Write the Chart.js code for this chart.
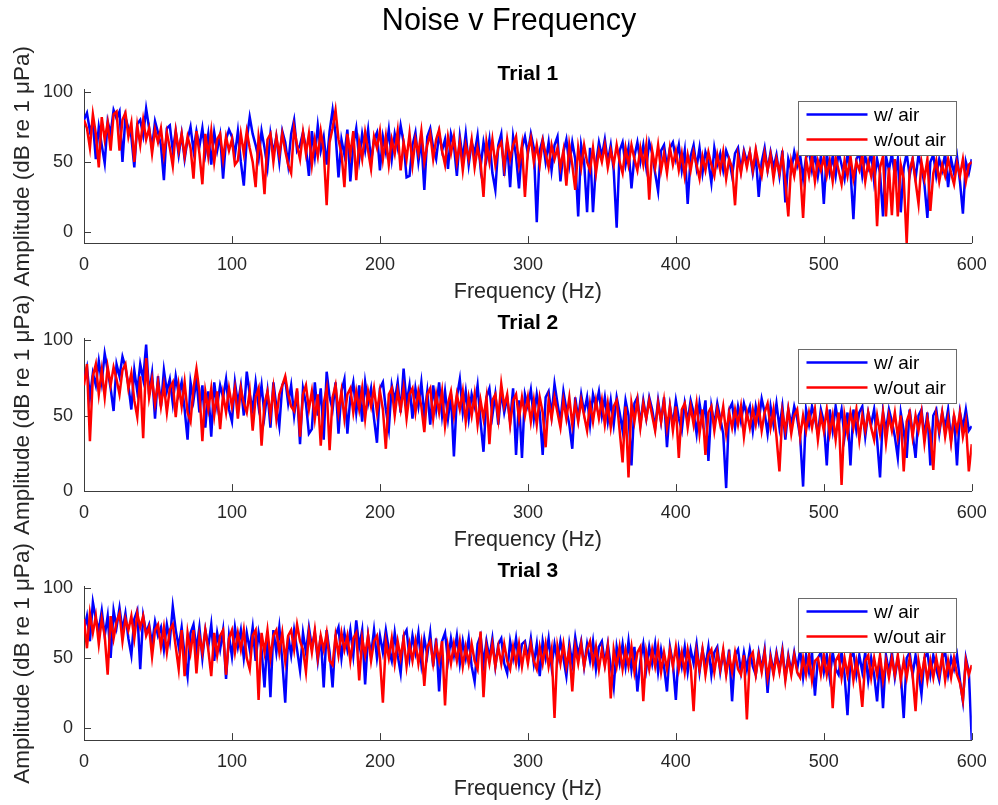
<!DOCTYPE html>
<html>
<head>
<meta charset="utf-8">
<script src="https://cdn.jsdelivr.net/npm/chart.js@4.4.0/dist/chart.umd.min.js"></script>
<style>
html,body{margin:0;padding:0;background:#fff;overflow:hidden;width:998px;height:805px;}
#mainTitle{position:absolute;left:0;top:3.5px;width:1018px;text-align:center;font-family:"Liberation Sans",Arial,Helvetica,sans-serif;font-size:30.5px;line-height:30.5px;color:#000;z-index:5;}
canvas{position:absolute;left:0;}
</style>
</head>
<body>
<div id="mainTitle">Noise v Frequency</div>
<canvas id="c1" width="998" height="305" style="top:0px"></canvas>
<canvas id="c2" width="998" height="263" style="top:290px"></canvas>
<canvas id="c3" width="998" height="263" style="top:539px"></canvas>
<script>
// ---------------- DATA ----------------
const SERIES_LABELS = ['w/ air', 'w/out air'];
const TRIAL_TITLES = ['Trial 1', 'Trial 2', 'Trial 3'];
const X_TITLE = 'Frequency (Hz)';
const Y_TITLE = 'Amplitude (dB re 1 \u03bcPa)';
const X_TICKS = [0, 100, 200, 300, 400, 500, 600];
const Y_TICKS = [0, 50, 100];

const FREQ = [
0,2,4,6,8,10,12,14,16,18,20,22,24,26,28,30,32,34,36,38,40,42,44,46,48,
50,52,54,56,58,60,62,64,66,68,70,72,74,76,78,80,82,84,86,88,90,92,94,96,98,
100,102,104,106,108,110,112,114,116,118,120,122,124,126,128,130,132,134,136,138,140,142,144,146,148,
150,152,154,156,158,160,162,164,166,168,170,172,174,176,178,180,182,184,186,188,190,192,194,196,198,
200,202,204,206,208,210,212,214,216,218,220,222,224,226,228,230,232,234,236,238,240,242,244,246,248,
250,252,254,256,258,260,262,264,266,268,270,272,274,276,278,280,282,284,286,288,290,292,294,296,298,
300,302,304,306,308,310,312,314,316,318,320,322,324,326,328,330,332,334,336,338,340,342,344,346,348,
350,352,354,356,358,360,362,364,366,368,370,372,374,376,378,380,382,384,386,388,390,392,394,396,398,
400,402,404,406,408,410,412,414,416,418,420,422,424,426,428,430,432,434,436,438,440,442,444,446,448,
450,452,454,456,458,460,462,464,466,468,470,472,474,476,478,480,482,484,486,488,490,492,494,496,498,
500,502,504,506,508,510,512,514,516,518,520,522,524,526,528,530,532,534,536,538,540,542,544,546,548,
550,552,554,556,558,560,562,564,566,568,570,572,574,576,578,580,582,584,586,588,590,592,594,596,598,
600];

const T1_AIR = [
80,85,72,78,52,75,62,49,79,70,87,81,86,50,82,74,68,46,77,80,69,88,74,60,79,
71,62,37,74,76,58,72,55,70,52,66,75,58,72,61,74,56,70,48,71,58,69,38,66,73,
68,55,72,50,33,66,82,70,62,52,72,60,46,70,56,68,50,72,64,48,70,80,58,62,71,
60,40,72,54,76,58,68,48,72,87,70,39,66,55,73,36,62,74,52,70,58,73,50,66,71,
44,68,57,73,52,70,60,76,64,39,40,62,71,50,66,30,68,74,60,52,70,58,66,45,70,
62,40,68,52,70,48,64,56,69,46,64,52,66,42,30,62,70,40,64,32,68,54,31,60,68,
56,70,60,7,58,66,50,64,44,62,68,36,57,66,48,64,52,11,62,50,14,60,14,48,64,
54,66,50,62,44,3,58,64,48,60,31,54,64,50,62,46,64,56,42,29,58,62,46,60,64,
52,62,44,58,20,54,62,46,60,42,57,50,35,60,48,56,44,58,52,40,56,60,44,58,50,
57,42,55,25,50,60,44,57,46,55,40,58,21,52,44,57,47,55,38,53,58,44,56,40,54,
20,56,42,54,40,57,48,38,56,44,9,52,56,40,54,46,57,36,52,42,11,54,44,56,40,
52,14,46,56,40,52,38,55,46,34,10,50,55,40,52,44,56,32,52,42,54,36,13,50,42,
52];

const T1_NOAIR = [
80,74,60,84,70,46,82,66,78,58,84,86,58,80,85,68,78,50,76,62,80,66,74,56,73,
64,74,55,71,60,47,72,58,70,54,68,60,38,72,56,34,70,54,72,50,66,70,52,68,58,
66,48,51,70,56,72,60,50,32,68,54,27,66,70,50,68,55,70,58,48,42,74,62,52,71,
56,70,48,66,54,72,58,19,64,74,87,66,56,32,70,55,72,37,64,52,71,58,45,68,60,
72,52,68,48,66,56,72,44,64,52,70,48,66,56,72,50,62,70,52,66,73,58,48,68,56,
68,50,64,44,62,52,66,46,60,50,25,64,50,66,48,60,64,46,66,52,62,68,48,62,25,
58,67,50,62,48,65,56,46,62,52,60,46,58,33,62,48,30,60,46,62,50,44,60,42,58,
50,62,46,58,48,62,50,42,60,48,62,52,44,60,48,62,23,58,46,62,44,56,42,60,48,
58,44,56,40,55,44,57,48,38,54,44,57,48,40,55,44,57,38,52,46,19,54,42,56,46,
57,44,59,48,40,56,44,55,38,52,42,55,36,11,50,40,54,44,10,52,40,54,36,51,44,
53,40,51,36,53,44,34,51,40,54,38,50,44,55,36,50,40,53,4,46,54,11,46,12,52,
11,48,38,-8,44,52,36,20,50,38,52,15,42,51,36,48,40,52,42,34,49,40,52,36,48,
50];

const T2_AIR = [
74,82,62,78,70,86,72,91,80,68,53,84,76,89,82,70,54,80,66,84,74,97,64,78,48,
76,56,80,66,74,58,76,64,72,54,34,72,60,74,52,70,42,66,36,72,56,70,62,74,54,
46,72,58,70,50,79,64,54,72,56,70,50,66,42,72,56,43,70,74,58,70,50,66,31,68,
58,38,41,72,50,68,34,79,62,54,72,38,66,74,38,62,72,52,70,46,72,58,68,48,32,
68,72,54,41,70,60,72,52,81,58,70,48,68,56,72,50,66,44,70,54,72,50,66,48,64,
23,62,74,52,66,48,64,56,70,46,26,62,68,50,64,44,66,52,62,46,68,24,60,22,64,
56,67,48,64,52,24,62,66,50,71,58,46,66,54,44,28,62,48,64,52,62,44,64,56,66,
50,62,46,60,44,62,52,40,60,50,17,58,62,44,60,48,62,54,42,60,46,62,29,56,44,
60,48,40,58,46,60,52,38,58,46,60,20,56,44,58,48,38,2,54,58,42,56,46,58,50,
56,40,56,46,61,52,38,56,44,58,42,56,34,54,44,56,48,36,3,54,44,56,48,38,54,
46,17,54,40,56,44,54,36,52,17,54,40,52,56,36,52,44,54,34,9,52,40,54,46,36,
22,52,40,22,54,38,22,50,54,36,52,17,50,54,38,52,42,54,34,50,17,52,42,54,40,
43];

const T2_NOAIR = [
70,84,33,76,84,64,80,62,82,70,82,74,64,80,84,68,78,60,49,76,35,88,62,74,58,
72,56,70,52,68,72,49,70,56,72,52,46,68,81,66,33,66,54,68,50,66,41,64,52,68,
56,68,48,68,58,52,66,40,62,68,30,58,66,50,68,48,64,70,76,64,56,53,68,36,64,
70,54,66,48,64,30,58,68,27,62,70,52,66,48,64,68,52,66,54,68,48,66,56,68,52,
66,54,28,64,68,50,66,54,68,48,64,68,52,66,56,39,64,68,48,64,52,66,43,58,66,
50,64,54,66,46,62,50,64,44,60,48,62,31,60,64,48,71,56,64,44,60,64,48,62,50,
62,46,60,44,62,52,29,60,48,62,52,42,60,48,62,44,58,46,60,50,40,58,46,60,48,
60,44,58,42,56,60,40,19,56,9,58,46,60,42,58,48,60,50,40,58,46,60,42,56,40,
56,22,54,58,42,56,44,58,38,54,24,52,56,40,54,44,56,38,52,42,54,44,56,36,52,
42,54,44,56,40,52,58,42,54,36,13,52,40,54,38,50,54,36,50,40,52,42,54,34,50,
40,54,38,50,34,52,4,50,38,52,42,54,34,50,40,52,42,34,50,38,52,32,50,40,52,
36,50,13,46,52,36,50,40,52,32,48,38,14,50,40,52,36,48,32,50,40,52,36,46,13,
31];

const T3_AIR = [
70,80,62,90,78,70,84,66,80,50,84,72,86,70,82,64,52,78,84,42,80,68,74,60,76,
66,72,56,74,62,87,70,58,72,52,37,68,74,56,72,50,70,58,74,48,68,56,70,35,66,
51,72,58,70,50,68,56,72,48,68,56,29,66,22,70,54,72,48,18,66,52,70,56,41,68,
54,72,58,68,48,66,29,70,54,29,66,72,50,68,56,70,52,77,58,70,31,66,52,70,50,
66,54,70,56,48,68,52,39,66,70,50,66,54,68,46,64,52,68,44,64,26,62,68,48,64,
52,66,46,62,50,64,44,33,60,66,46,62,50,64,44,60,64,46,39,62,50,64,46,60,62,
50,64,46,60,37,62,50,64,44,60,48,62,50,37,60,46,65,52,62,44,60,48,62,42,58,
62,46,60,44,29,58,46,60,44,62,42,58,26,48,60,42,58,46,60,40,56,44,26,58,46,
20,56,44,58,40,56,46,60,40,56,44,58,38,54,58,40,54,40,56,19,52,56,40,54,42,
56,44,38,54,42,56,25,52,40,54,42,56,36,52,40,54,42,56,36,52,40,54,23,50,54,
40,52,36,54,42,38,54,38,9,50,54,38,52,40,54,34,50,38,19,50,14,52,40,54,36,
50,38,7,50,54,38,52,40,24,50,54,38,52,42,34,50,54,38,50,42,52,34,19,50,40,
-9];

const T3_NOAIR = [
78,57,82,68,80,60,78,66,38,80,64,76,82,62,78,70,80,64,82,72,80,66,72,51,70,
74,58,72,54,70,74,58,42,70,37,68,54,70,39,66,54,70,56,37,68,52,66,70,38,64,
70,54,68,56,70,50,42,66,70,20,68,54,70,50,66,70,54,68,48,66,70,56,74,62,56,
40,68,54,70,50,66,56,68,48,45,66,52,68,56,66,48,64,68,34,64,52,66,48,62,66,
50,18,62,50,64,46,62,50,64,44,60,48,62,46,60,30,58,62,46,60,48,62,16,58,46,
60,48,62,44,58,46,60,48,42,69,22,58,46,60,44,58,46,60,48,42,58,46,60,44,58,
46,60,48,42,58,46,60,44,56,7,58,46,60,44,56,26,58,46,60,44,56,62,46,58,42,
56,44,58,21,56,44,58,42,56,44,58,40,54,58,19,54,42,56,44,58,40,54,42,56,44,
58,42,54,40,56,44,12,54,42,56,38,52,56,40,54,42,56,38,52,40,54,42,38,52,6,
50,54,38,52,40,54,36,50,38,52,40,54,34,50,38,52,40,36,50,38,52,34,48,50,38,
52,38,50,14,48,52,36,50,38,52,34,48,36,15,48,52,36,50,38,52,34,48,36,50,38,
52,34,48,36,50,38,12,48,36,50,34,48,36,50,38,52,34,48,36,50,38,32,20,48,38,
45];

// ---------------- STYLE ----------------
const FONT = '"Liberation Sans", Arial, Helvetica, sans-serif';
const AXIS_COLOR = '#3c3c3c';
const TEXT_COLOR = '#262626';
const SERIES_COLORS = ['#0000ff', '#ff0000'];

// inward tick marks (MATLAB style)
const innerTicks = {
  id: 'innerTicks',
  beforeDatasetsDraw(chart) {
    const {ctx, chartArea, scales} = chart;
    const xs = scales.x, ys = scales.y;
    ctx.save();
    ctx.strokeStyle = AXIS_COLOR;
    ctx.lineWidth = 1;
    ctx.beginPath();
    xs.ticks.forEach(t => {
      const px = Math.round(xs.getPixelForValue(t.value)) + 0.5;
      ctx.moveTo(px, chartArea.bottom);
      ctx.lineTo(px, chartArea.bottom - 7);
    });
    ys.ticks.forEach(t => {
      const py = Math.round(ys.getPixelForValue(t.value)) + 0.5;
      ctx.moveTo(chartArea.left, py);
      ctx.lineTo(chartArea.left + 7, py);
    });
    ctx.stroke();
    ctx.restore();
  }
};

// boxed legend inside the plot, top right
const boxLegend = {
  id: 'boxLegend',
  afterDraw(chart) {
    const {ctx, chartArea} = chart;
    const w = 158, h = 54;
    const bx = Math.round(chartArea.right - 16 - w);
    const by = Math.round(chartArea.top + 11);
    ctx.save();
    ctx.fillStyle = '#ffffff';
    ctx.fillRect(bx, by, w, h);
    ctx.strokeStyle = '#6a6a6a';
    ctx.lineWidth = 1;
    ctx.strokeRect(bx + 0.5, by + 0.5, w, h);
    chart.data.datasets.forEach((ds, i) => {
      const ly = by + 13.6 + i * 25;
      ctx.strokeStyle = ds.borderColor;
      ctx.lineWidth = 2.5;
      ctx.beginPath();
      ctx.moveTo(bx + 8.5, ly);
      ctx.lineTo(bx + 69.5, ly);
      ctx.stroke();
      ctx.fillStyle = '#000';
      ctx.font = '19px ' + FONT;
      ctx.textBaseline = 'middle';
      ctx.textAlign = 'left';
      ctx.fillText(ds.label, bx + 76, ly + 1);
    });
    ctx.restore();
  }
};

function buildChart(id, title, air, noair, yMin, yMax, padTop) {
  return new Chart(document.getElementById(id), {
    type: 'line',
    data: {
      datasets: [
        {label: SERIES_LABELS[0], data: FREQ.map((f, i) => ({x: f, y: air[i]})),
         borderColor: SERIES_COLORS[0], borderWidth: 2.5, pointRadius: 0, tension: 0, fill: false, order: 2},
        {label: SERIES_LABELS[1], data: FREQ.map((f, i) => ({x: f, y: noair[i]})),
         borderColor: SERIES_COLORS[1], borderWidth: 2.5, pointRadius: 0, tension: 0, fill: false, order: 1}
      ]
    },
    options: {
      responsive: false,
      animation: false,
      events: [],
      layout: {padding: {top: padTop, right: 21, bottom: 0, left: 0}},
      plugins: {
        legend: {display: false},
        tooltip: {enabled: false},
        title: {display: true, text: title, fullSize: false, color: '#000',
                font: {family: FONT, size: 21, weight: 'bold', lineHeight: 1.2},
                padding: {top: 0, bottom: 2.4}}
      },
      scales: {
        x: {
          type: 'linear', min: 0, max: 600,
          afterBuildTicks: s => { s.ticks = X_TICKS.map(v => ({value: v})); },
          afterFit: s => { s.height = 61.9; },
          grid: {display: false, drawTicks: false},
          border: {display: true, color: AXIS_COLOR, width: 1},
          ticks: {padding: 11.2, color: TEXT_COLOR, maxRotation: 0, autoSkip: false,
                  font: {family: FONT, size: 18, lineHeight: 1.2}},
          title: {display: true, text: X_TITLE, color: TEXT_COLOR, padding: 0,
                  font: {family: FONT, size: 21.5, lineHeight: 1.2}}
        },
        y: {
          type: 'linear', min: yMin, max: yMax,
          afterBuildTicks: s => { s.ticks = Y_TICKS.map(v => ({value: v})); },
          afterFit: s => { s.width = 84; },
          grid: {display: false, drawTicks: false},
          border: {display: true, color: AXIS_COLOR, width: 1},
          ticks: {padding: 11, color: TEXT_COLOR, font: {family: FONT, size: 18, lineHeight: 1.2}},
          title: {display: true, text: Y_TITLE, color: TEXT_COLOR, padding: {top: 9, bottom: 0},
                  font: {family: FONT, size: 22.5, lineHeight: 1.2}}
        }
      }
    },
    plugins: [innerTicks, boxLegend]
  });
}

buildChart('c1', TRIAL_TITLES[0], T1_AIR, T1_NOAIR, -8, 101.7, 61.9);
buildChart('c2', TRIAL_TITLES[1], T2_AIR, T2_NOAIR, 0, 101.1, 20.7);
buildChart('c3', TRIAL_TITLES[2], T3_AIR, T3_NOAIR, -8.8, 101.1, 20.1);
</script>
</body>
</html>
